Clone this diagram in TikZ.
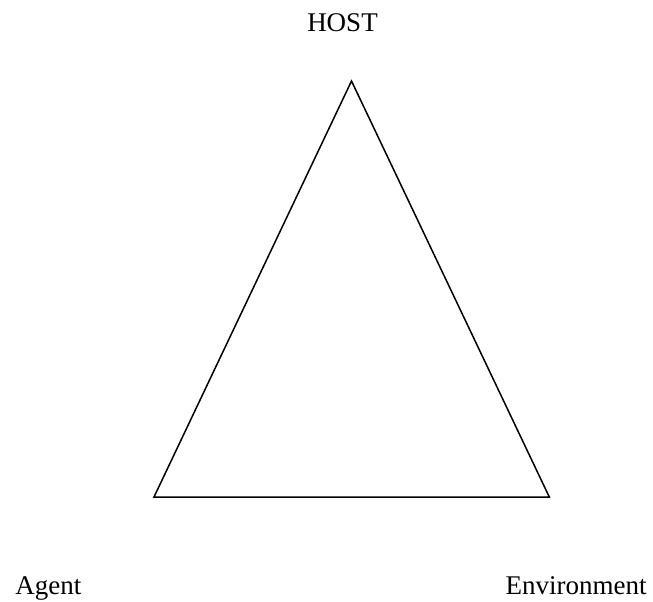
\documentclass[tikz,border=0pt]{standalone}
\usepackage{fontspec}
\setmainfont{Liberation Serif}
\usepackage{tikz}

\tikzset{label/.style={inner sep=0pt, font=\fontsize{13.5}{16}\selectfont}}

\begin{document}
\begin{tikzpicture}[x=0.5pt, y=0.5pt]
		\useasboundingbox (0,0) rectangle (653,601);
		\coordinate (HOST) at (351.5, 520);
		\coordinate (AGENT) at (154, 104);
		\coordinate (ENV) at (549.3, 104);

		\draw[line width=0.75pt, line join=miter] (HOST) -- (AGENT) -- (ENV) -- cycle;

		\node[label, anchor=base] (hostlabel) at (342.5, 569) {HOST};
		\node[label, anchor=base west] (agentlabel) at (15, 7) {Agent};
		\node[label, anchor=base east] (envlabel) at (647, 7) {Environment};

	\end{tikzpicture}
\end{document}
